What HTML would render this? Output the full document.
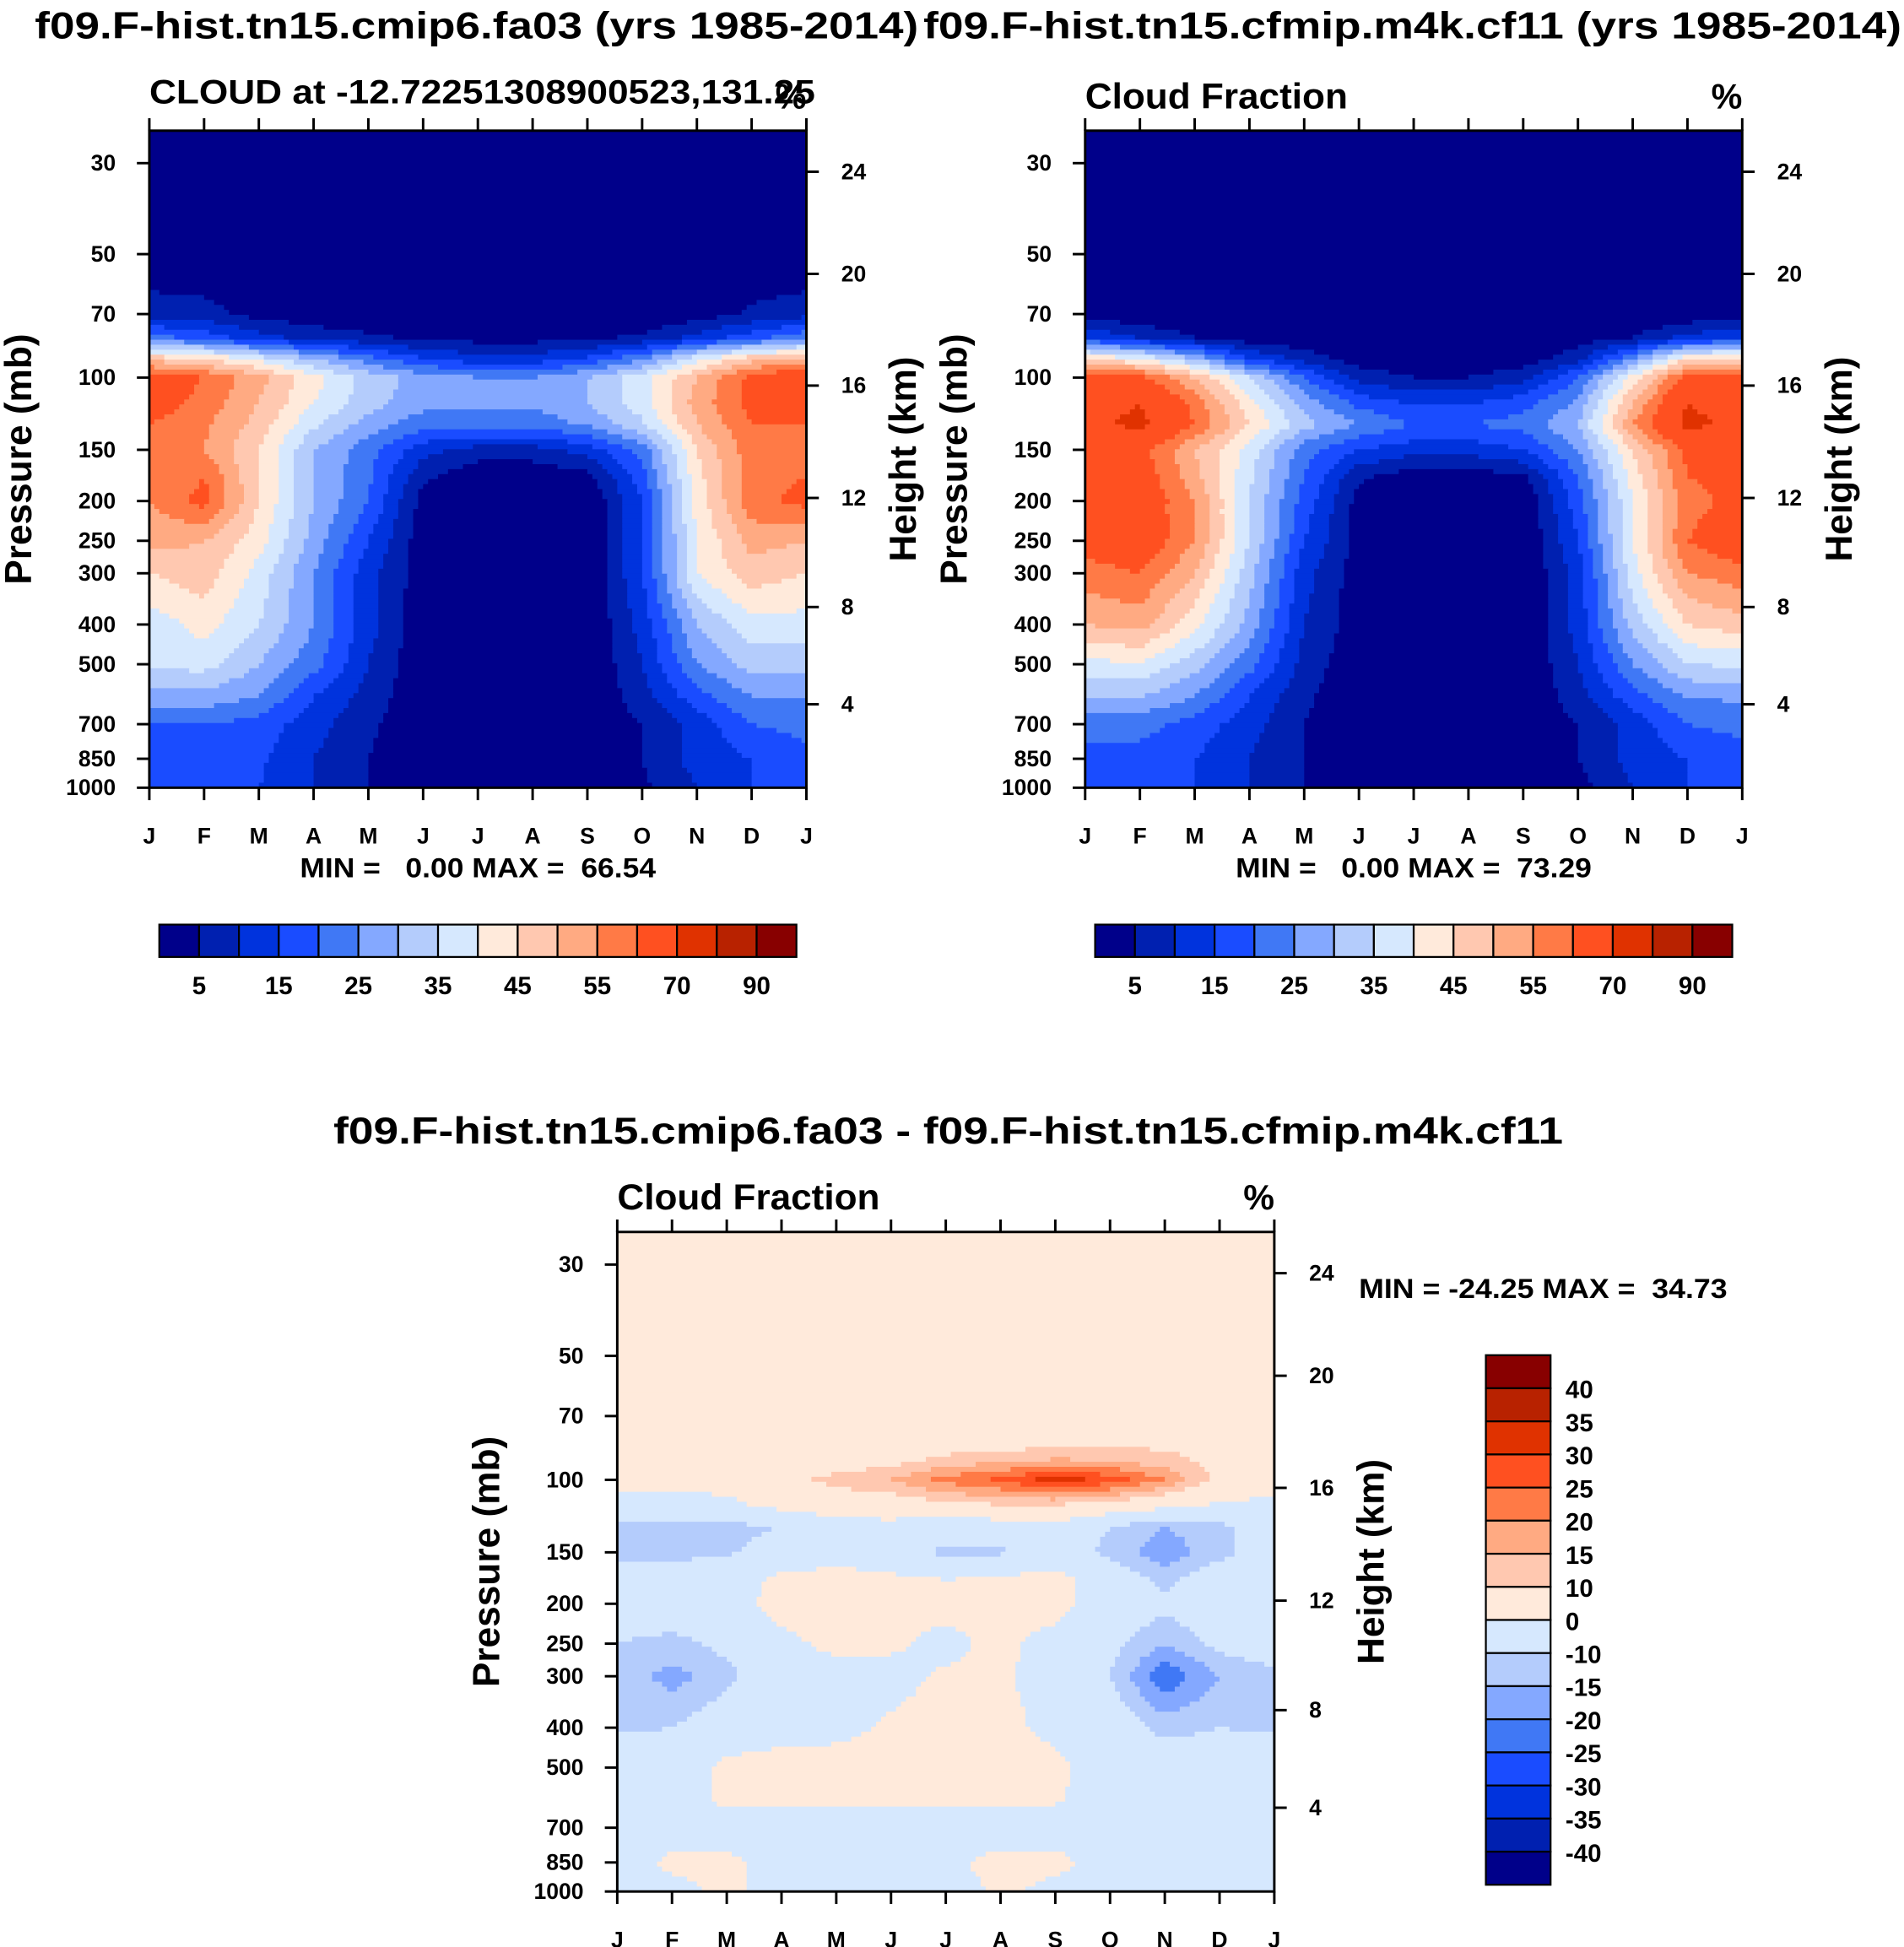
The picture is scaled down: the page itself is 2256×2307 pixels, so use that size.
<!DOCTYPE html>
<html><head><meta charset="utf-8"><style>
html,body{margin:0;padding:0;background:#fff;}
svg{display:block;}
text{font-family:"Liberation Sans",sans-serif;font-weight:bold;fill:#000;white-space:pre;}
</style></head><body>
<svg id="fig" xmlns="http://www.w3.org/2000/svg" width="2256" height="2307" viewBox="0 0 1530 1564.6" preserveAspectRatio="none">
</svg>
<script>
// ---- data ----
const months = ["J","F","M","A","M","J","J","A","S","O","N","D","J"];
const pLevels = [30,50,70,80,90,100,115,130,150,175,200,250,300,400,500,600,700,850,1000];
const pressureTicks = [30,50,70,100,150,200,250,300,400,500,700,850,1000];
const heightTicks = [24,20,16,12,8,4];
const heightTickFrac = [0.0625,0.218,0.388,0.559,0.725,0.873];
const absLevels = [5,10,15,20,25,30,35,40,45,50,55,60,70,80,90];
const absLabels = ["5","15","25","35","45","55","70","90"];
const diffLevels = [-40,-35,-30,-25,-20,-15,-10,0,10,15,20,25,30,35,40];
const palette = ["#00008a","#0020b0","#0033dd","#1a4cff","#4078f5","#84a8ff","#b4ccfc","#d6e8fe","#ffeadb","#ffc8b0","#ffaa82","#ff7a46","#ff5020","#e03200","#b82200","#880000"];

const fa03 = [
 [0,0,0,0,0,0,0,0,0,0,0,0,0],
 [0,0,0,0,0,0,0,0,0,0,0,0,0],
 [8,7,3,2,1,0,0,0,0,0,2,6,8],
 [22,18,12,8,6,4,3,3,4,6,12,18,24],
 [48,45,38,30,22,15,12,12,16,24,38,48,50],
 [65,60,52,42,33,28,25,25,30,38,50,62,68],
 [64,58,50,40,32,27,26,26,30,38,52,62,64],
 [60,56,48,36,28,22,22,22,26,34,50,60,60],
 [55,55,45,30,22,12,8,8,12,22,45,58,55],
 [55,60,45,30,21,6,1,1,3,18,43,58,60],
 [55,62,45,30,20,3,0,0,0,15,42,58,62],
 [52,50,42,28,15,2,0,0,0,15,40,52,50],
 [45,48,38,25,12,2,0,0,0,15,40,48,45],
 [37,42,35,25,12,1,0,0,0,12,30,38,38],
 [36,37,30,22,10,1,0,0,0,10,25,32,32],
 [28,28,25,15,8,1,0,0,0,8,18,25,25],
 [20,20,18,12,6,1,0,0,1,5,12,20,22],
 [18,18,16,10,5,1,0,0,1,5,12,15,18],
 [16,17,15,10,5,2,0,0,0,4,10,15,16]
];
const cf11 = [
 [0,0,0,0,0,0,0,0,0,0,0,0,0],
 [0,0,0,0,0,0,0,0,0,0,0,0,0],
 [2,1,0,0,0,0,0,0,0,0,0,1,2],
 [15,10,5,2,1,0,0,0,0,2,5,12,15],
 [45,40,30,15,8,2,1,1,2,8,25,45,45],
 [62,62,50,35,20,8,5,5,8,20,42,62,62],
 [66,70,58,42,28,18,14,14,18,26,50,70,66],
 [68,72,60,45,32,25,20,20,22,30,55,72,68],
 [62,62,50,38,22,15,12,12,15,25,45,62,62],
 [62,64,52,36,20,6,2,2,4,20,42,60,62],
 [62,65,55,35,18,3,0,0,0,18,40,58,62],
 [62,65,55,35,15,3,0,0,0,15,40,60,65],
 [58,60,50,32,12,2,0,0,0,12,38,55,58],
 [50,52,42,28,10,2,0,0,0,12,32,45,48],
 [38,40,32,22,8,1,0,0,0,10,25,35,36],
 [30,30,25,15,6,1,0,0,0,8,18,25,26],
 [22,22,18,12,5,1,0,0,1,5,12,20,22],
 [18,18,15,10,5,1,0,0,1,5,12,15,17],
 [16,17,15,10,5,2,0,0,0,3,10,15,16]
];
const diff = [
 [3,3,3,3,3,3,3,3,3,3,3,3,3],
 [3,3,3,3,3,3,3,3,3,3,3,3,3],
 [3,3,3,3,3,3,3,3,3,3,3,5,8],
 [3,3,3,3,4,5,5,6,6,7,8,8,5],
 [3,3,3,4,6,8,12,14,16,15,12,8,5],
 [2,2,3,8,12,15,22,26,33,28,20,8,3],
 [-2,-2,-2,3,5,6,8,10,10,7,3,-1,-2],
 [-12,-13,-12,-10,-3,-3,-5,-5,-3,-10,-15,-12,-5],
 [-12,-12,-11,-6,-3,-6,-12,-11,-5,-12,-18,-12,-5],
 [-5,-5,-5,2,3,2,0,2,3,-5,-12,-5,-5],
 [-5,-5,-3,3,4,3,2,3,3,-5,-8,-5,-5],
 [-10,-12,-8,-2,2,1,-2,2,-3,-8,-15,-8,-5],
 [-12,-17,-12,-4,-3,-2,1,1,-3,-10,-24,-15,-12],
 [-11,-10,-5,-3,-2,1,2,2,-2,-5,-12,-10,-11],
 [-5,-5,2,3,3,3,3,3,2,-5,-5,-5,-5],
 [-5,-5,2,2,2,2,2,2,1,-5,-5,-5,-5],
 [-5,-5,-5,-5,-5,-5,-5,-5,-5,-5,-5,-5,-5],
 [-5,2,2,-3,-5,-5,-2,3,3,-5,-5,-5,-5],
 [-5,-3,2,-3,-5,-5,-5,2,-3,-5,-5,-5,-5]
];

// ---- drawing ----
const NS = "http://www.w3.org/2000/svg";
const fig = document.getElementById("fig");
function mk(tag, attrs, parent){const e=document.createElementNS(NS,tag);for(const k in attrs)e.setAttribute(k,attrs[k]);(parent||fig).appendChild(e);return e;}
function txt(s,x,y,size,anchor,parent,extra){const t=mk("text",Object.assign({x:x,y:y,"font-size":size,"text-anchor":anchor||"start"},extra||{}),parent);t.textContent=s;return t;}
const LNTOP = Math.log(1000/25);
function levelIndex(v,levels){let i=0;while(i<levels.length&&v>=levels[i])i++;return i;}
function sample(grid,m,lnp){
  const lp = pLevels.map(p=>Math.log(p));
  let k=0; while(k<lp.length-2 && lnp>lp[k+1]) k++;
  let t=(lnp-lp[k])/(lp[k+1]-lp[k]); t=Math.max(0,Math.min(1,t));
  const i=Math.min(11,Math.floor(m)); const u=m-i;
  const a=grid[k][i]*(1-u)+grid[k][i+1]*u;
  const b=grid[k+1][i]*(1-u)+grid[k+1][i+1]*u;
  return a*(1-t)+b*t;
}
function panel(name,grid,levels,x0,x1,y0,y1){
  const g=mk("g",{});
  
  
  const yOf=p=>y1-(y1-y0)*Math.log(1000/p)/LNTOP;
  const nx=132, ny=132, dx=(x1-x0)/nx, dy=(y1-y0)/ny;
  for(let r=0;r<ny;r++){
    const yc=y0+(r+0.5)*dy;
    const lnp=Math.log(1000)-(y1-yc)/(y1-y0)*LNTOP;
    let runStart=0, runIdx=-1;
    for(let c=0;c<=nx;c++){
      let idx=-2;
      if(c<nx){const m=(c+0.5)/nx*12; idx=levelIndex(sample(grid,m,lnp),levels);}
      if(idx!==runIdx){
        if(runIdx>=0){
          const rc=mk("rect",{x:x0+runStart*dx,y:y0+r*dy,width:(c-runStart)*dx+0.4,height:dy+0.4,fill:palette[runIdx]},g);
          
          
        }
        runStart=c; runIdx=idx;
      }
    }
  }
  const fr=mk("rect",{x:x0,y:y0,width:x1-x0,height:y1-y0,fill:"none",stroke:"#000","stroke-width":2},g);
  
  
  months.forEach((mo,i)=>{
    const x=x0+i*(x1-x0)/12;
    mk("line",{x1:x,x2:x,y1:y1,y2:y1+10,stroke:"#000","stroke-width":2},g);
    mk("line",{x1:x,x2:x,y1:y0,y2:y0-10,stroke:"#000","stroke-width":2},g);
    const t=txt(mo,x,y1+45,18,"middle",g);
    
    
  });
  pressureTicks.forEach(p=>{
    const y=yOf(p);
    mk("line",{x1:x0-10,x2:x0,y1:y,y2:y,stroke:"#000","stroke-width":2},g);
    const t=txt(String(p),x0-27,y+6,18,"end",g);
    
    
  });
  heightTicks.forEach((h,i)=>{
    const y=y0+heightTickFrac[i]*(y1-y0);
    mk("line",{x1:x1,x2:x1+10,y1:y,y2:y,stroke:"#000","stroke-width":2},g);
    const t=txt(String(h),x1+28,y+6,18,"start",g);
    
    
  });
  const lt=txt("Pressure (mb)",0,0,30,"middle",g,{transform:`translate(${x0-95},${(y0+y1)/2}) rotate(-90)`});
  
  
  const rt=txt("Height (km)",0,0,30,"middle",g,{transform:`translate(${x1+88},${(y0+y1)/2}) rotate(-90)`});
  
  
}
function hbar(name,x0,y0){
  const g=mk("g",{});
  
  
  palette.forEach((c,i)=>{
    const r=mk("rect",{x:x0+i*32,y:y0,width:32,height:26,fill:c,stroke:"#000","stroke-width":1.5},g);
    
    
  });
  absLabels.forEach((l,i)=>{
    const t=txt(l,x0+32*(2*i+1),y0+56,20,"middle",g);
    
    
  });
}
function vbar(name,x0,y0){
  const g=mk("g",{});
  
  
  const h=26.6;
  for(let i=0;i<16;i++){
    const r=mk("rect",{x:x0,y:y0+i*h,width:52,height:h,fill:palette[15-i],stroke:"#000","stroke-width":1.5},g);
    
    
  }
  for(let i=0;i<15;i++){
    const t=txt(String(diffLevels[14-i]),x0+64,y0+(i+1)*h+8,20,"start",g);
    
    
  }
}

panel("panel-fa03",fa03,absLevels,120,648,105,633);
panel("panel-cf11",cf11,absLevels,872,1400,105,633);
panel("panel-diff",diff,diffLevels,496,1024,990,1520);
hbar("colorbar-fa03",128,743);
hbar("colorbar-cf11",880,743);
vbar("colorbar-diff",1194,1089);

let t;
t=txt("f09.F-hist.tn15.cmip6.fa03 (yrs 1985-2014)",28,31,30,"start",null,{textLength:710,lengthAdjust:"spacingAndGlyphs"});
 
t=txt("f09.F-hist.tn15.cfmip.m4k.cf11 (yrs 1985-2014)",742,31,30,"start",null,{textLength:786,lengthAdjust:"spacingAndGlyphs"});
 
t=txt("f09.F-hist.tn15.cmip6.fa03 - f09.F-hist.tn15.cfmip.m4k.cf11",268,919,30,"start",null,{textLength:988,lengthAdjust:"spacingAndGlyphs"});
 
t=txt("CLOUD at -12.72251308900523,131.25",120,83,27,"start",null,{textLength:535,lengthAdjust:"spacingAndGlyphs"});
 
t=txt("%",648,87,28,"end");
 
t=txt("Cloud Fraction",872,87,29,"start",null,{textLength:211,lengthAdjust:"spacingAndGlyphs"});
 
t=txt("%",1400,87,28,"end");
 
t=txt("Cloud Fraction",496,972,29,"start",null,{textLength:211,lengthAdjust:"spacingAndGlyphs"});
 
t=txt("%",1024,972,28,"end");
 
t=txt("MIN =   0.00 MAX =  66.54",241,705,22,"start",null,{textLength:286,lengthAdjust:"spacingAndGlyphs"});
 
t=txt("MIN =   0.00 MAX =  73.29",993,705,22,"start",null,{textLength:286,lengthAdjust:"spacingAndGlyphs"});
 
t=txt("MIN = -24.25 MAX =  34.73",1092,1043,22,"start",null,{textLength:296,lengthAdjust:"spacingAndGlyphs"});
 
</script>
</body></html>
